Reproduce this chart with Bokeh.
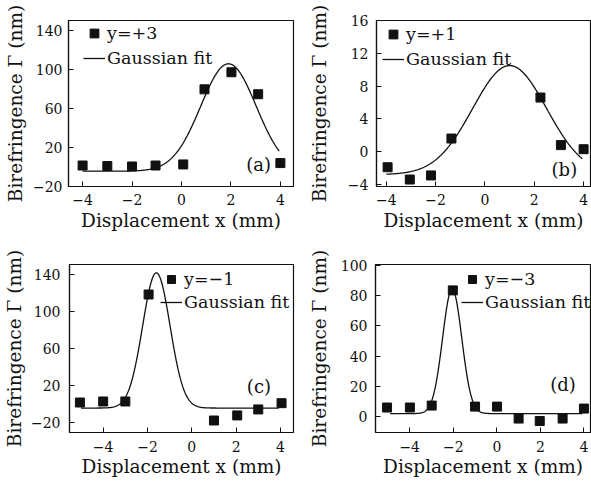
import numpy as np
from bokeh.plotting import figure
from bokeh.layouts import column, row
from bokeh.models import (Range1d, FixedTicker, CustomJSTickFormatter, Legend,
                          LegendItem, Label)
from bokeh.embed import file_html
from bokeh.resources import INLINE

# ---------------- data ----------------
a_x = [-4.0, -3.0, -2.0, -1.05, 0.07, 0.93, 2.02, 3.1, 4.0]
a_y = [1.5, 1.0, 0.5, 1.5, 2.6, 79.5, 97.0, 74.5, 4.0]
a_fit = dict(y0=-4.3, A=110.0, xc=1.9, w=1.12, x0=-4.0, x1=3.95)

b_x = [-3.95, -3.05, -2.19, -1.36, 2.25, 3.08, 4.0]
b_y = [-1.9, -3.4, -2.9, 1.6, 6.6, 0.8, 0.3]
b_fit = dict(y0=-2.8, A=13.3, xc=1.0, w=1.5, x0=-4.0, x1=3.95)

c_x = [-5.05, -4.0, -3.0, -1.95, 1.0, 2.05, 3.0, 4.05]
c_y = [1.5, 2.6, 2.6, 118.5, -18.0, -12.5, -6.0, 0.8]
c_fit = dict(y0=-4.5, A=146.5, xc=-1.6, w=0.62, x0=-5.0, x1=3.92)

d_x = [-5.04, -3.99, -2.99, -2.02, -1.0, 0.01, 1.0, 1.97, 3.02, 4.0]
d_y = [6.0, 6.0, 7.3, 83.4, 6.6, 6.6, -1.3, -2.9, -1.3, 5.3]
d_fit = dict(y0=2.0, A=82.4, xc=-2.05, w=0.44, x0=-4.9, x1=3.93)

series_labels = ["y=+3", "y=+1", "y=\u22121", "y=\u22123"]
panel_letters = ["(a)", "(b)", "(c)", "(d)"]
x_ticks = [-4, -2, 0, 2, 4]
a_yticks = [-20, 20, 60, 100, 140]
b_yticks = [-4, 0, 4, 8, 12, 16]
c_yticks = [-20, 20, 60, 100, 140]
d_yticks = [0, 20, 40, 60, 80, 100]

FONT = "DejaVu Serif"
INK = "#111111"

fmt_code = "return tick < 0 ? '\u2212' + Math.abs(tick) : String(tick);"


def gauss(x, y0, A, xc, w):
    return y0 + A * np.exp(-(x - xc) ** 2 / (2.0 * w * w))


def panel(w, h, borders, xr, yr, yticks, xs, ys, fit, lab, letter,
          letter_xy, leg_x, leg_top, glyph_h, ystand, xstand):
    bl, br, bt, bb = borders
    fh = h - bt - bb
    p = figure(width=w, height=h, output_backend="svg", toolbar_location=None,
               x_range=Range1d(*xr), y_range=Range1d(*yr),
               min_border_left=bl, min_border_right=br,
               min_border_top=bt, min_border_bottom=bb,
               background_fill_color="white", border_fill_color="white")
    p.outline_line_color = INK
    p.outline_line_width = 1.2
    p.xgrid.visible = False
    p.ygrid.visible = False
    for ax in (p.xaxis[0], p.yaxis[0]):
        ax.axis_line_color = INK
        ax.axis_line_width = 1.2
        ax.major_tick_in = 5
        ax.major_tick_out = 0
        ax.major_tick_line_color = INK
        ax.minor_tick_in = 0
        ax.minor_tick_out = 0
        ax.major_label_text_font = FONT
        ax.major_label_text_font_size = "14px"
        ax.major_label_text_color = INK
        ax.axis_label_text_font = FONT
        ax.axis_label_text_font_size = "18.5px"
        ax.axis_label_text_font_style = "normal"
        ax.axis_label_text_color = INK
        ax.formatter = CustomJSTickFormatter(code=fmt_code)
    p.xaxis.ticker = FixedTicker(ticks=x_ticks)
    p.yaxis.ticker = FixedTicker(ticks=yticks)
    p.xaxis.axis_label = "Displacement x (mm)"
    p.yaxis.axis_label = "Birefringence \u0393 (nm)"
    p.xaxis.major_label_standoff = xstand[0]
    p.xaxis.axis_label_standoff = xstand[1]
    p.yaxis.major_label_standoff = ystand[0]
    p.yaxis.axis_label_standoff = ystand[1]

    fx = np.linspace(fit["x0"], fit["x1"], 300)
    fy = gauss(fx, fit["y0"], fit["A"], fit["xc"], fit["w"])
    r_pts = p.scatter(xs, ys, marker="square", size=9, fill_color=INK,
                      line_color=INK)
    r_fit = p.line(fx, fy, line_color=INK, line_width=1.3)

    leg_h = 2 * glyph_h + 3
    legend = Legend(items=[LegendItem(label=lab, renderers=[r_pts]),
                           LegendItem(label="Gaussian fit", renderers=[r_fit])],
                    location=(leg_x, fh - leg_top - leg_h),
                    border_line_alpha=0, background_fill_alpha=0,
                    padding=0, margin=0, spacing=3,
                    glyph_width=22, glyph_height=glyph_h,
                    label_height=glyph_h, label_standoff=2,
                    label_text_font=FONT, label_text_font_size="17.5px",
                    label_text_color=INK)
    p.add_layout(legend)
    p.add_layout(Label(x=letter_xy[0], y=letter_xy[1], text=letter,
                       text_font=FONT, text_font_size="18px",
                       text_color=INK, text_align="center",
                       text_baseline="middle"))
    return p


pa = panel(305, 244, (68, 12, 20, 57), (-4.57, 4.53), (-20, 150), a_yticks,
           a_x, a_y, a_fit, series_labels[0], panel_letters[0], (3.12, 2.6),
           15, 3, 22, (6, 4), (7, 2))
pb = panel(286, 244, (66, 1, 20, 58), (-4.4, 4.28), (-4.25, 16), b_yticks,
           b_x, b_y, b_fit, series_labels[1], panel_letters[1], (3.22, -2.2),
           6, 3, 22, (8, 15), (7, 2))
pc = panel(305, 237, (69, 12, 20, 49), (-5.52, 4.59), (-31, 151), c_yticks,
           c_x, c_y, c_fit, series_labels[2], panel_letters[2], (3.03, 19.2),
           91, 5, 20, (9, 3), (8, 1))
pd = panel(286, 237, (65, 1, 20, 49), (-5.57, 4.3), (-10.5, 100.5), d_yticks,
           d_x, d_y, d_fit, series_labels[3], panel_letters[3], (3.04, 21.5),
           86, 5, 20, (8, 8), (8, 1))

layout = column(row(pa, pb), row(pc, pd))
open("out.html", "w").write(file_html(layout, INLINE))
